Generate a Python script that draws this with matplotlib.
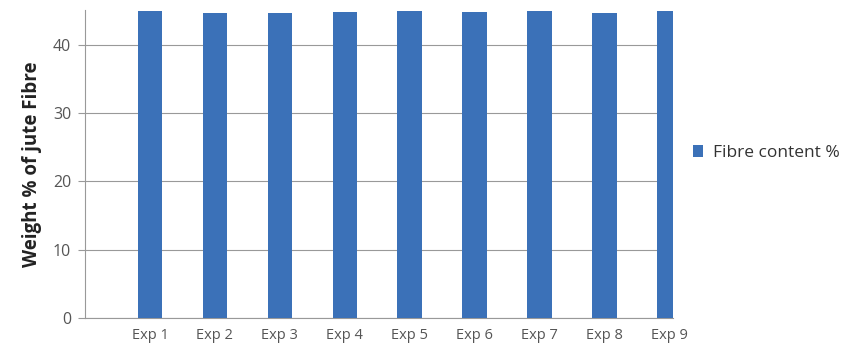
import matplotlib
matplotlib.use('Agg')
import matplotlib.pyplot as plt

plt.rcParams['font.family'] = ['Open Sans', 'DejaVu Sans']

# Data
experiments = ['Exp 1', 'Exp 2', 'Exp 3', 'Exp 4', 'Exp 5',
               'Exp 6', 'Exp 7', 'Exp 8', 'Exp 9']
fibre_content = [44.9, 44.7, 44.6, 44.8, 44.9, 44.75, 44.9, 44.6, 44.95]
y_ticks = [0, 10, 20, 30, 40]

bar_color = '#3B71B8'
grid_color = '#999999'
text_color = '#555555'

fig = plt.figure(figsize=(8.43, 3.52), dpi=100)
ax = fig.add_axes([0.1008, 0.0966, 0.6975, 0.875])

positions = list(range(1, len(experiments) + 1))
bars = ax.bar(positions, fibre_content, width=0.38, color=bar_color,
              zorder=3, label='Fibre content %')

ax.set_xlim(0, 9.05)
ax.set_ylim(0, 45.1)
ax.set_yticks(y_ticks)
ax.set_xticks(positions)
ax.set_xticklabels(experiments, fontsize=10.5, color=text_color)
ax.tick_params(axis='y', labelsize=11.5, colors=text_color, length=5,
               color=grid_color, pad=5)
ax.tick_params(axis='x', length=0, pad=7)

# Gridlines behind bars
ax.yaxis.grid(True, color=grid_color, linewidth=0.8, zorder=0)

for side in ['top', 'right']:
    ax.spines[side].set_visible(False)
for side in ['left', 'bottom']:
    ax.spines[side].set_color(grid_color)
    ax.spines[side].set_linewidth(0.8)

ax.set_ylabel('Weight % of jute Fibre', fontsize=13.5, fontweight='bold',
              color='#222222', labelpad=8)

# Legend on the right
fig.legend(handles=[bars], labels=['Fibre content %'], loc='center left',
           bbox_to_anchor=(0.803, 0.565), frameon=False, fontsize=12.5,
           handlelength=0.6, handleheight=0.6, handletextpad=0.6,
           labelcolor='#333333')

plt.savefig('out.png', dpi=100)
plt.close()
